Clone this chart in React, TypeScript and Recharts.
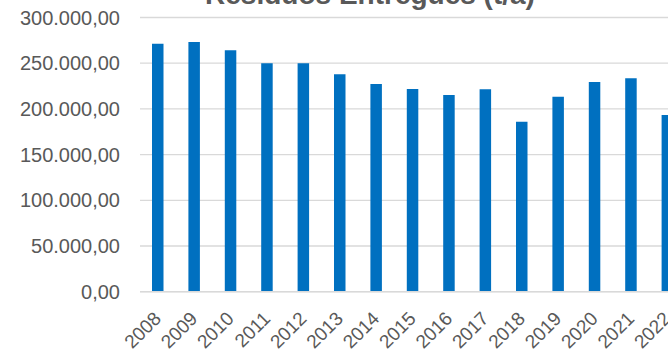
import { BarChart, Bar, XAxis, YAxis, CartesianGrid } from "recharts";

const anos = ["2008", "2009", "2010", "2011", "2012", "2013", "2014", "2015", "2016", "2017", "2018", "2019", "2020", "2021", "2022"];
const toneladas = [271300, 273200, 264100, 249900, 250000, 237900, 227200, 221800, 215200, 221400, 186000, 213300, 229400, 233500, 193300];
const ticksY = [0, 50000, 100000, 150000, 200000, 250000, 300000];
const titulo = "Resíduos Entregues (t/a)";

const dados = anos.map((ano, i) => ({ ano, valor: toneladas[i] }));

const cinza = "#595959";
const fonte = "'Liberation Sans', Arial, sans-serif";

function formatar(v: number) {
  const inteiro = Math.round(v).toString().replace(/\B(?=(\d{3})+(?!\d))/g, ".");
  return `${inteiro},00`;
}

function TickAno(props: any) {
  const { x, y, payload } = props;
  return (
    <g transform={`translate(${x + 4},${y + 28})`}>
      <text textAnchor="end" transform="rotate(-45)" fill={cinza} fontSize={19} fontFamily={fonte}>
        {payload.value}
      </text>
    </g>
  );
}

export default function App() {
  return (
    <div style={{ position: "absolute", left: 0, top: 0, width: 668, height: 352, overflow: "hidden", background: "#fff" }}>
      <svg width={668} height={20} style={{ position: "absolute", left: 0, top: 0 }}>
        <text x={370} y={4} textAnchor="middle" fill={cinza} fontSize={28} fontWeight="bold" fontFamily={fonte}>
          {titulo}
        </text>
      </svg>
      <BarChart width={686} height={352} data={dados} margin={{ top: 17.5, right: 0, bottom: 0, left: 0 }}>
        <CartesianGrid vertical={false} stroke="#d9d9d9" strokeWidth={1.3} />
        <XAxis
          dataKey="ano"
          height={60.3}
          interval={0}
          tickLine={false}
          tickSize={0}
          tickMargin={0}
          axisLine={{ stroke: "#d9d9d9", strokeWidth: 1.5 }}
          tick={<TickAno />}
        />
        <YAxis
          width={140}
          domain={[0, 300000]}
          ticks={ticksY}
          tickFormatter={formatar}
          axisLine={false}
          tickLine={false}
          tickSize={0}
          tickMargin={20}
          tick={{ fill: cinza, fontSize: 20, fontFamily: fonte }}
        />
        <Bar dataKey="valor" fill="#0070C0" barSize={11.5} isAnimationActive={false} />
      </BarChart>
    </div>
  );
}
